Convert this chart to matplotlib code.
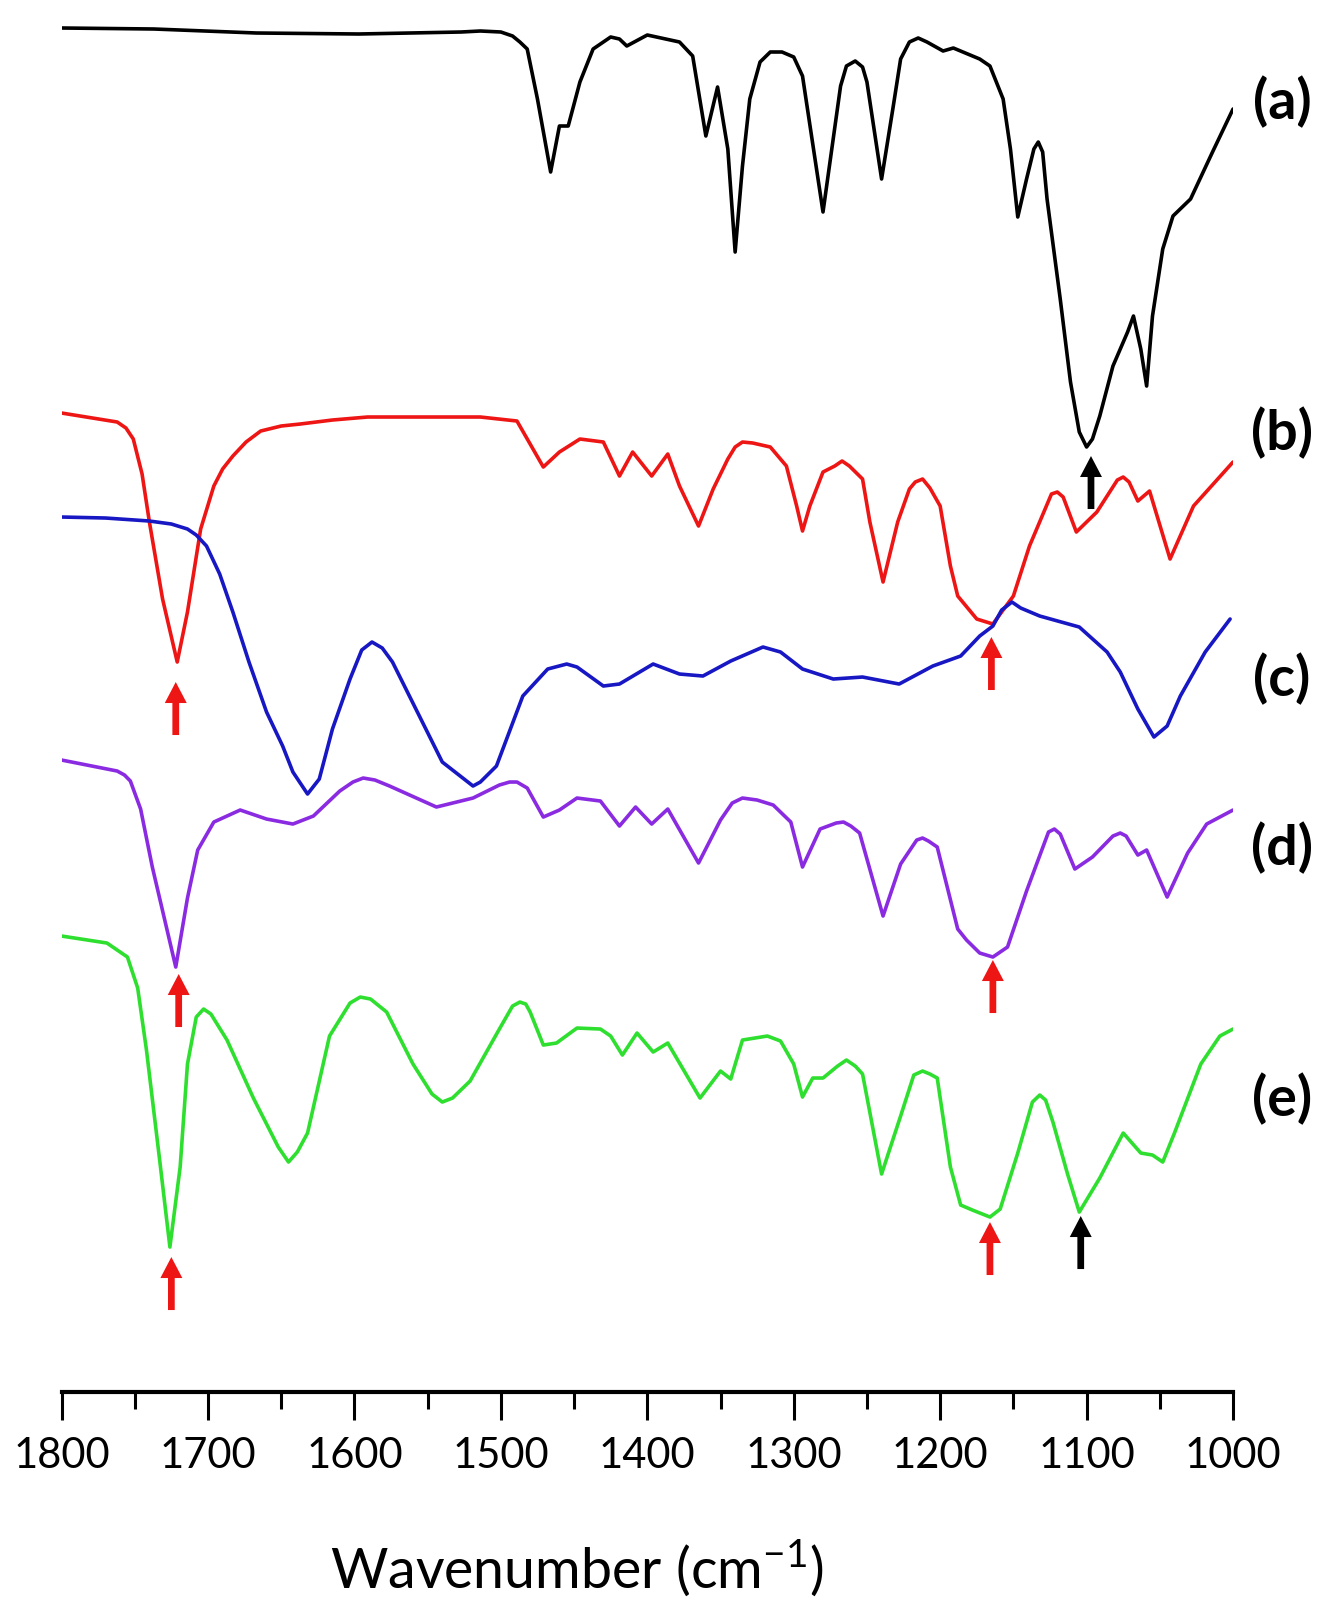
import matplotlib
matplotlib.use("Agg")
import matplotlib.pyplot as plt
from matplotlib.ticker import MultipleLocator

plt.rcParams['font.family'] = ['Lato', 'DejaVu Sans']

# FTIR spectra, offset transmittance (a.u.) vs wavenumber (cm-1)
wn_a = [1800, 1737, 1667, 1597, 1527, 1514, 1500, 1492, 1487, 1482, 1475, 1466, 1460,
        1454, 1446, 1437, 1425, 1419, 1414, 1400, 1378, 1369, 1360, 1352, 1345, 1340,
        1335, 1330, 1323, 1316, 1308, 1300, 1294, 1280, 1268, 1264, 1258, 1253, 1250,
        1240, 1232, 1227, 1221, 1215, 1209, 1198, 1191, 1173, 1166, 1157, 1152, 1147,
        1141, 1136, 1133, 1130, 1127, 1118, 1111, 1105, 1100, 1096, 1091, 1082, 1072,
        1068, 1063, 1059, 1055, 1048, 1041, 1029, 1014, 1000]
t_a = [136.4, 136.3, 135.9, 135.8, 136.0, 136.1, 136.0, 135.6, 135.0, 134.3, 129.3, 122.0, 126.6,
       126.6, 131.0, 134.3, 135.5, 135.3, 134.6, 135.7, 135.0, 133.6, 125.6, 130.5, 124.3, 114.0,
       122.6, 129.3, 133.0, 134.0, 134.0, 133.5, 131.6, 118.0, 130.6, 132.6, 133.1, 132.5, 131.0,
       121.3, 128.6, 133.3, 135.0, 135.4, 135.0, 134.1, 134.4, 133.3, 132.6, 129.3, 124.3, 117.5,
       121.3, 124.3, 125.0, 124.0, 119.3, 109.3, 101.0, 96.0, 94.5, 95.3, 97.6, 102.6, 106.0,
       107.6, 104.3, 100.6, 107.6, 114.3, 117.6, 119.3, 124.0, 128.3]

wn_b = [1800, 1762, 1756, 1751, 1745, 1740, 1731, 1721, 1714, 1705, 1696, 1690, 1683,
        1674, 1664, 1650, 1637, 1615, 1591, 1514, 1489, 1471, 1460, 1446, 1430, 1419,
        1410, 1397, 1386, 1378, 1365, 1355, 1345, 1340, 1335, 1328, 1316, 1305, 1298,
        1294, 1289, 1280, 1272, 1267, 1262, 1253, 1248, 1239, 1229, 1221, 1217, 1212,
        1207, 1200, 1193, 1188, 1175, 1164, 1150, 1139, 1124, 1120, 1116, 1107, 1093,
        1079, 1075, 1071, 1065, 1057, 1043, 1027, 1000]
t_b = [97.9, 97.0, 96.4, 95.3, 91.8, 87.0, 79.3, 73.0, 78.0, 86.3, 90.6, 92.3, 93.6,
       95.0, 96.1, 96.6, 96.8, 97.2, 97.5, 97.5, 97.1, 92.5, 94.0, 95.3, 95.0, 91.6,
       94.0, 91.6, 93.8, 90.6, 86.6, 90.3, 93.3, 94.5, 95.0, 94.9, 94.5, 92.6, 88.6,
       86.1, 88.6, 92.0, 92.6, 93.1, 92.6, 91.3, 87.0, 81.0, 87.0, 90.3, 91.0, 91.3,
       90.4, 88.6, 82.6, 79.6, 77.3, 76.8, 79.6, 84.6, 89.8, 90.0, 89.5, 86.0, 88.0,
       91.2, 91.5, 91.0, 89.1, 90.1, 83.3, 88.6, 93.0]

wn_c = [1800, 1770, 1740, 1725, 1714, 1708, 1701, 1692, 1683, 1672, 1660, 1649, 1642,
        1632, 1624, 1615, 1603, 1595, 1588, 1581, 1574, 1557, 1540, 1519, 1514, 1503,
        1485, 1468, 1455, 1448, 1430, 1419, 1396, 1378, 1362, 1343, 1321, 1309, 1294,
        1273, 1253, 1228, 1205, 1186, 1173, 1164, 1158, 1151, 1145, 1132, 1105, 1086,
        1077, 1065, 1054, 1045, 1036, 1019, 1002]
t_c = [87.5, 87.4, 87.1, 86.8, 86.3, 85.7, 84.6, 81.8, 78.0, 73.0, 68.0, 64.6, 62.0,
       59.8, 61.3, 66.3, 71.3, 74.2, 75.0, 74.4, 73.0, 68.0, 63.0, 60.6, 61.0, 62.6,
       69.6, 72.3, 72.8, 72.5, 70.6, 70.8, 72.8, 71.8, 71.6, 73.1, 74.5, 74.0, 72.3,
       71.3, 71.5, 70.8, 72.6, 73.6, 75.6, 76.6, 78.2, 79.0, 78.4, 77.6, 76.5, 74.0,
       72.0, 68.3, 65.5, 66.6, 69.6, 74.0, 77.3]

wn_d = [1800, 1762, 1757, 1753, 1746, 1738, 1722, 1714, 1707, 1696, 1678, 1660, 1642,
        1628, 1610, 1601, 1594, 1586, 1576, 1544, 1519, 1501, 1494, 1489, 1482, 1471,
        1460, 1448, 1432, 1419, 1408, 1397, 1386, 1365, 1350, 1342, 1335, 1325, 1314,
        1302, 1294, 1282, 1271, 1266, 1261, 1255, 1239, 1227, 1216, 1212, 1208, 1202,
        1188, 1182, 1173, 1164, 1154, 1141, 1126, 1122, 1118, 1108, 1096, 1082, 1077,
        1073, 1065, 1059, 1045, 1031, 1018, 1000]
t_d = [63.2, 62.1, 61.7, 61.1, 58.3, 52.5, 42.5, 49.4, 54.2, 57.0, 58.2, 57.3, 56.8,
       57.6, 60.1, 61.0, 61.4, 61.2, 60.6, 58.5, 59.4, 60.7, 61.0, 61.0, 60.4, 57.5,
       58.2, 59.4, 59.1, 56.6, 58.5, 56.8, 58.3, 52.9, 57.2, 58.9, 59.4, 59.2, 58.7,
       57.0, 52.5, 56.3, 56.9, 57.0, 56.6, 55.9, 47.6, 52.8, 55.2, 55.4, 55.1, 54.5,
       46.3, 45.2, 43.9, 43.5, 44.5, 50.1, 56.0, 56.3, 55.8, 52.3, 53.5, 55.6, 55.9,
       55.6, 53.7, 54.2, 49.5, 53.9, 56.8, 58.2]

wn_e = [1800, 1769, 1755, 1748, 1742, 1733, 1726, 1719, 1714, 1708, 1703, 1698, 1687,
        1669, 1652, 1645, 1639, 1632, 1617, 1603, 1596, 1589, 1578, 1560, 1547, 1540,
        1533, 1521, 1501, 1492, 1487, 1483, 1480, 1471, 1462, 1448, 1432, 1425, 1417,
        1407, 1396, 1386, 1364, 1350, 1343, 1335, 1318, 1309, 1300, 1294, 1287, 1280,
        1270, 1264, 1258, 1253, 1240, 1227, 1218, 1212, 1207, 1202, 1193, 1186, 1178,
        1166, 1159, 1147, 1137, 1132, 1128, 1123, 1113, 1105, 1091, 1075, 1063, 1055,
        1048, 1040, 1022, 1009, 1000]
t_e = [45.6, 44.9, 43.5, 40.4, 34.2, 23.2, 14.5, 22.5, 32.8, 37.5, 38.3, 37.8, 35.2,
       29.4, 24.5, 23.0, 24.0, 25.9, 35.6, 38.9, 39.5, 39.3, 38.0, 32.8, 29.8, 29.0,
       29.4, 31.1, 36.3, 38.6, 39.0, 38.8, 38.0, 34.7, 34.9, 36.4, 36.3, 35.6, 33.7,
       35.9, 34.0, 34.9, 29.4, 32.1, 31.3, 35.2, 35.6, 35.1, 32.8, 29.5, 31.4, 31.4,
       32.6, 33.2, 32.6, 31.8, 21.8, 27.6, 31.7, 32.1, 31.8, 31.4, 22.5, 18.7, 18.2,
       17.5, 18.3, 23.9, 29.0, 29.7, 29.2, 27.0, 21.8, 18.0, 21.4, 25.9, 23.9, 23.7,
       23.0, 25.9, 32.8, 35.6, 36.3]

labels = ['(a)', '(b)', '(c)', '(d)', '(e)']
label_pos = [129.1, 96.0, 71.4, 54.5, 29.4]
colors = ['black', '#ee1515', '#1717c4', '#8a2be2', '#2fdf2f']

# marked bands: wavenumber, arrow tip, colour
arrow_wn = [1097, 1722, 1165, 1720, 1164, 1725, 1166, 1104]
arrow_tip = [93.6, 71.0, 75.5, 41.8, 43.2, 13.5, 17.0, 17.6]
arrow_col = ['black', '#ee1515', '#ee1515', '#ee1515', '#ee1515', '#ee1515', '#ee1515', 'black']

fig = plt.figure(figsize=(13.32, 16.06), dpi=100)
ax = fig.add_axes([0.0462, 0.1326, 0.8795, 0.8674])

series = [(wn_a, t_a), (wn_b, t_b), (wn_c, t_c), (wn_d, t_d), (wn_e, t_e)]
for (x, y), c in zip(series, colors):
    ax.plot(x, y, color=c, lw=2.6, solid_joinstyle='round', solid_capstyle='round')

for x, tip, c in zip(arrow_wn, arrow_tip, arrow_col):
    ax.arrow(x, tip - 5.3, 0, 5.3, width=4.6, head_width=15, head_length=2.1,
             length_includes_head=True, color=c, lw=0)

for lab, y in zip(labels, label_pos):
    ax.text(966.5, y, lab, ha='center', va='center', fontsize=40,
            fontweight='bold', clip_on=False)

ax.set_xlim(1800, 1000)
ax.set_ylim(0, 139.3)
for s in ['left', 'right', 'top']:
    ax.spines[s].set_visible(False)
ax.spines['bottom'].set_linewidth(3)
ax.set_yticks([])
ax.xaxis.set_major_locator(MultipleLocator(100))
ax.xaxis.set_minor_locator(MultipleLocator(50))
ax.tick_params(axis='x', which='major', direction='out', length=20, width=2.2,
               labelsize=30, pad=12)
ax.tick_params(axis='x', which='minor', direction='out', length=12, width=2.2)

fig.text(0.433, 0.0112, 'Wavenumber (cm$^{\\mathregular{-1}}$)', ha='center',
         va='baseline', fontsize=40)

fig.savefig('out.png', dpi=100, facecolor='white')
